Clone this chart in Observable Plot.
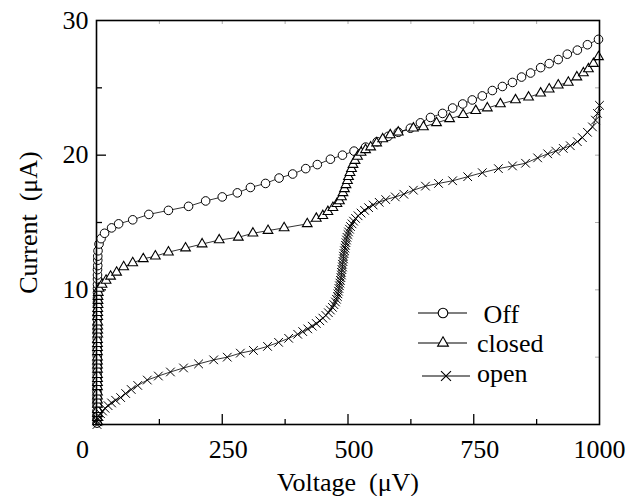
<!DOCTYPE html>
<html><head><meta charset="utf-8">
<script src="https://cdn.jsdelivr.net/npm/d3@7"></script>
<script src="https://cdn.jsdelivr.net/npm/@observablehq/plot@0.6"></script>
<style>
html,body{margin:0;padding:0;background:#fff;}
#chart{position:relative;width:626px;height:496px;overflow:hidden;}
</style></head><body><div id="chart"></div>
<script>
// ---- data (voltage µV, current µA) ----
const seriesNames = ["Off", "closed", "open"];

const offV = [1,1,1,1,1,1,1,1,1,1,
  1.5,1.5,1.5,1.5,1.5,1.5,1.5,1.5,1.5,1.5,1.5,1.5,1.5,1.5,1.5,
  2,2,2,2,2,2,2,2,2,2,2.5,2.5,2.5,3,
  5,9,16,30,44,72,104,143,183,217,250,280,306,336,363,390,416,439,465,489,512,535,558,580,600,
  624,644,664,688,708,728,747,767,787,807,827,845,863,883,900,918,936,956,976,998];
const offI = [0.1,0.4,0.7,1.0,1.4,1.7,2.0,2.4,2.7,3.0,
  3.4,3.7,4.1,4.4,4.7,5.1,5.4,5.7,6.1,6.4,6.8,7.1,7.4,7.8,8.1,
  8.4,8.8,9.1,9.4,9.8,10.1,10.4,10.8,11.1,11.5,11.8,12.2,12.5,12.9,
  13.4,13.8,14.2,14.6,14.9,15.2,15.6,15.9,16.2,16.6,16.9,17.2,17.6,17.9,18.3,18.6,19.0,19.3,19.7,20.0,20.3,20.6,21.0,21.4,21.7,
  22.0,22.4,22.8,23.1,23.5,23.8,24.1,24.4,24.8,25.1,25.4,25.8,26.1,26.5,26.8,27.1,27.5,27.8,28.2,28.6];

const closedV = [2,2,2,2,2,2,2,2,2,2,2,2,2,2,2,2,2,2,2,2,
  2.5,2.5,2.5,2.5,2.5,2.5,2.5,3,3,3,3.5,
  5,11,19,28,40,54,72,93,117,143,177,210,244,282,311,341,373,419,437,450,460,470,478,483,487,490,493,496,499,501,504,507,510,514,519,526,535,545,557,569,584,600,
  630,650,676,702,729,754,777,803,833,859,883,900,918,938,955,968,978,988,998];
const closedI = [0.2,0.5,0.8,1.1,1.5,1.8,2.1,2.4,2.8,3.1,3.4,3.7,4.1,4.4,4.7,5.0,5.4,5.7,6.0,6.3,
  6.7,7.0,7.3,7.6,8.0,8.3,8.6,8.9,9.2,9.5,9.8,
  10.1,10.4,10.7,11.0,11.3,11.7,12.0,12.3,12.5,12.8,13.1,13.4,13.7,13.9,14.2,14.4,14.6,14.9,15.3,15.5,15.8,16.1,16.4,16.6,16.9,17.2,17.5,17.8,18.1,18.4,18.7,19.0,19.3,19.6,19.9,20.2,20.4,20.6,20.9,21.2,21.5,21.7,
  22.0,22.1,22.4,22.7,23.0,23.3,23.5,23.8,24.1,24.3,24.6,24.9,25.2,25.4,25.8,26.1,26.4,26.8,27.3];

const openV = [1,2,3,5,8,12,17,23,30,38,48,58,69,82,101,123,147,173,203,233,260,286,312,340,362,382,
  400,410,420,429,437,444,450,456,461,465,469,472,475,477,479,480,481,482,483,484,485,486,487,487,488,489,489,490,491,491,492,493,494,495,496,497,498,500,501,503,505,508,511,515,520,526,533,541,550,562,575,594,611,630,654,680,
  708,738,767,799,827,853,877,897,913,928,942,956,966,976,986,992,996,1000];
const openI = [0.0,0.2,0.4,0.6,0.8,1.0,1.2,1.4,1.6,1.8,2.0,2.3,2.6,2.9,3.3,3.6,3.9,4.2,4.5,4.8,5.0,5.3,5.5,5.8,6.1,6.4,
  6.7,6.9,7.1,7.3,7.5,7.7,7.9,8.1,8.3,8.5,8.7,8.9,9.1,9.3,9.5,9.7,9.9,10.1,10.3,10.5,10.7,10.9,11.1,11.3,11.5,11.7,11.9,12.1,12.3,12.5,12.7,12.9,13.1,13.3,13.5,13.7,13.9,14.1,14.3,14.5,14.7,14.9,15.1,15.3,15.5,15.7,15.9,16.1,16.3,16.5,16.7,16.9,17.1,17.4,17.7,17.9,
  18.1,18.4,18.7,19.0,19.2,19.4,19.8,20.1,20.3,20.5,20.7,21.0,21.3,21.7,22.1,22.6,23.1,23.7];

// tick values
const xLabelZero = [0];
const xLabelMid = [250, 500, 750];
const xLabelEnd = [1000];
const xMajorTicks = [250, 500, 750];
const xMinorTicks = [125, 375, 625, 875];
const xAllTicks = [125, 250, 375, 500, 625, 750, 875];
const yLabels = [10, 20, 30];
const yMajorTicks = [10, 20];
const yMinorTicks = [5, 15, 25];
const yAllTicks = [5, 10, 15, 20, 25];

const xTitle = "Voltage\u00a0 (μV)";
const yTitle = "Current\u00a0 (μA)";

// ---- build rows ----
const toRows = (name, V, I) => V.map((v, k) => ({series: name, v, i: I[k]}));
const offRows = toRows("Off", offV, offI);
const closedRows = toRows("closed", closedV, closedI);
const openRows = toRows("open", openV, openI);
const allRows = [...offRows, ...closedRows, ...openRows];

const font = "Liberation Serif, Times New Roman, serif";
const W = 626, H = 496, mL = 96, mR = 27, mT = 20, mB = 72;
const pw = W - mL - mR, ph = H - mT - mB;
const FS = 26;
const fmt = d => String(d);

const chart = Plot.plot({
  width: W, height: H,
  marginLeft: mL, marginRight: mR, marginTop: mT, marginBottom: mB,
  style: {fontFamily: font, background: "#fff", color: "#000", overflow: "visible"},
  x: {domain: [0, 1000]},
  y: {domain: [0, 30]},
  marks: [
    // mirrored faint ticks on top / right
    Plot.tickX(xAllTicks, {x: d => d, insetBottom: ph - 4, stroke: "#999", strokeWidth: 0.8}),
    Plot.tickY(yAllTicks, {y: d => d, insetLeft: pw - 4, stroke: "#999", strokeWidth: 0.8}),
    // inward ticks bottom / left
    Plot.tickX(xMajorTicks, {x: d => d, insetTop: ph - 10, stroke: "#000", strokeWidth: 1.3}),
    Plot.tickX(xMinorTicks, {x: d => d, insetTop: ph - 5, stroke: "#000", strokeWidth: 1.3}),
    Plot.tickY(yMajorTicks, {y: d => d, insetRight: pw - 10, stroke: "#000", strokeWidth: 1.3}),
    Plot.tickY(yMinorTicks, {y: d => d, insetRight: pw - 6, stroke: "#000", strokeWidth: 1.3}),
    // tick labels
    Plot.axisX(xLabelZero, {tickSize: 0, tickPadding: 15, fontSize: FS, dx: -14, label: null, tickFormat: fmt}),
    Plot.axisX(xLabelMid, {tickSize: 0, tickPadding: 15, fontSize: FS, dx: 6, label: null, tickFormat: fmt}),
    Plot.axisX(xLabelEnd, {tickSize: 0, tickPadding: 15, fontSize: FS, dx: 0, label: null, tickFormat: fmt}),
    Plot.axisY(yLabels, {tickSize: 0, tickPadding: 8, fontSize: FS, label: null, tickFormat: fmt}),
    // axis titles
    Plot.text([xTitle], {frameAnchor: "bottom", lineAnchor: "middle", textAnchor: "middle", dy: 58, fontSize: FS, text: d => d}),
    Plot.text([yTitle], {frameAnchor: "left", lineAnchor: "middle", textAnchor: "middle", dx: -68, rotate: -90, fontSize: FS, text: d => d}),
    // data lines
    Plot.line(allRows, {x: "v", y: "i", z: "series", stroke: "#000", strokeWidth: 0.8}),
    // markers
    Plot.dot(offRows, {x: "v", y: "i", symbol: "circle", r: 4.3, fill: "#fff", stroke: "#000", strokeWidth: 1}),
    Plot.dot(closedRows, {x: "v", y: "i", symbol: "triangle", r: 3.6, fill: "#fff", stroke: "#000", strokeWidth: 1.1}),
    Plot.dot(openRows, {x: "v", y: "i", symbol: "times", r: 4, fill: "none", stroke: "#000", strokeWidth: 1}),
    Plot.frame({stroke: "#000", strokeWidth: 1.6})
  ]
});
document.getElementById("chart").appendChild(chart);

// ---- legend (inside plot area, lower right) ----
const svg = d3.select(chart);
const legendItems = [
  {name: seriesNames[0], label: "\u00a0Off", sym: d3.symbolCircle, r: 4.8, lineY: 313, x1: 418, x2: 467, mx: 443, tx: 477, ty: 323},
  {name: seriesNames[1], label: "closed", sym: d3.symbolTriangle, r: 4.0, lineY: 343, x1: 418, x2: 467, mx: 443, tx: 477, ty: 352},
  {name: seriesNames[2], label: "open", sym: d3.symbolTimes, r: 4.6, lineY: 376, x1: 422, x2: 470, mx: 446, tx: 477, ty: 382}
];
const lg = svg.append("g").attr("class", "legend").attr("text-anchor", "start");
legendItems.forEach(it => {
  lg.append("line").attr("x1", it.x1).attr("x2", it.x2).attr("y1", it.lineY).attr("y2", it.lineY)
    .attr("stroke", "#000").attr("stroke-width", 1.2);
  const stroke = it.sym === d3.symbolTimes;
  lg.append("path").attr("d", d3.symbol(it.sym, Math.PI * it.r * it.r)())
    .attr("transform", `translate(${it.mx},${it.lineY})`)
    .attr("fill", stroke ? "none" : "#fff").attr("stroke", "#000").attr("stroke-width", 1.1);
  lg.append("text").attr("x", it.tx).attr("y", it.ty).text(it.label)
    .attr("text-anchor", "start")
    .attr("font-family", font).attr("font-size", FS).attr("fill", "#000");
});
</script></body></html>
